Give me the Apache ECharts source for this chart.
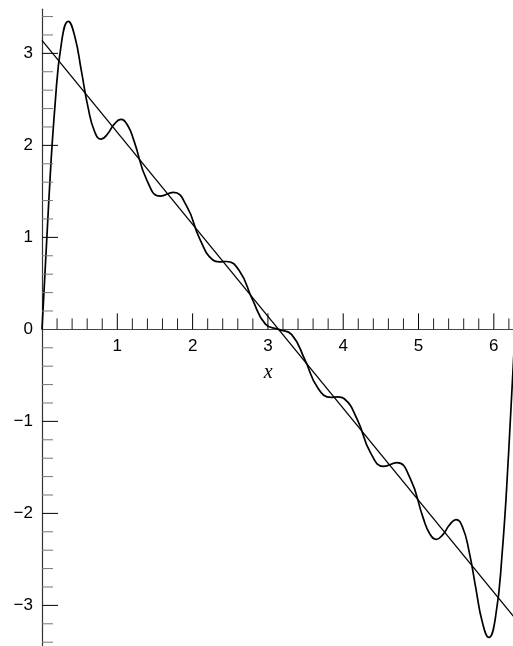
<!DOCTYPE html>
<html>
<head>
<meta charset="utf-8">
<script src="https://cdn.jsdelivr.net/npm/echarts@6/dist/echarts.min.js"></script>
<style>
html, body { margin: 0; padding: 0; background: #fff; }
#chart { width: 513px; height: 646px; }
</style>
</head>
<body>
<div id="chart"></div>
<script>
// Eight-term Fourier partial sum of the sawtooth pi - x on [0, 2pi]
const curveX = [0, 0.0873, 0.1745, 0.2618, 0.3491, 0.4363, 0.5236, 0.6109, 0.6981, 0.7854,
  0.8727, 0.9599, 1.0472, 1.1345, 1.2217, 1.3963, 1.5708, 1.7453, 1.9199, 2.0944,
  2.2689, 2.3562, 2.4435, 2.6180, 2.7925, 2.9671, 3.1416,
  3.3161, 3.4907, 3.6652, 3.8397, 3.9270, 4.0143, 4.1888, 4.3633, 4.5379, 4.7124,
  4.8869, 5.0615, 5.1487, 5.2360, 5.3233, 5.4105, 5.4978, 5.5851, 5.6723, 5.7596,
  5.8469, 5.9341, 6.0214, 6.1087, 6.1959, 6.2832];
const curveY = [0, 1.352, 2.454, 3.134, 3.348, 3.181, 2.806, 2.415, 2.151, 2.067,
  2.126, 2.231, 2.283, 2.221, 2.049, 1.615, 1.448, 1.489, 1.342, 0.984,
  0.754, 0.734, 0.738, 0.641, 0.330, 0.057, 0,
  -0.057, -0.330, -0.641, -0.738, -0.734, -0.754, -0.984, -1.342, -1.489, -1.448,
  -1.615, -2.049, -2.221, -2.283, -2.231, -2.126, -2.067, -2.151, -2.415, -2.806,
  -3.181, -3.348, -3.134, -2.454, -1.352, 0];

// The sawtooth itself: straight line pi - x
const lineX = [0, 6.2832];
const lineY = [3.1416, -3.1416];

// Tick positions and labelled values
const xTickValues = [0.2, 0.4, 0.6, 0.8, 1, 1.2, 1.4, 1.6, 1.8, 2, 2.2, 2.4, 2.6, 2.8, 3,
  3.2, 3.4, 3.6, 3.8, 4, 4.2, 4.4, 4.6, 4.8, 5, 5.2, 5.4, 5.6, 5.8, 6, 6.2];
const yTickValues = [-3.4, -3.2, -3, -2.8, -2.6, -2.4, -2.2, -2, -1.8, -1.6, -1.4, -1.2, -1,
  -0.8, -0.6, -0.4, -0.2, 0.2, 0.4, 0.6, 0.8, 1, 1.2, 1.4, 1.6, 1.8, 2, 2.2, 2.4, 2.6,
  2.8, 3, 3.2, 3.4];
const xLabelValues = [1, 2, 3, 4, 5, 6];
const yLabelValues = [-3, -2, -1, 0, 1, 2, 3];

const X_MIN = 0, X_MAX = 6.26;
const Y_MIN = -3.45, Y_MAX = 3.48;
const GRID_TOP = 9.2, GRID_HEIGHT = 637.6;
// raise the horizontal axis from the grid bottom to the y = 0 level
const xAxisLift = (0 - Y_MIN) / (Y_MAX - Y_MIN) * GRID_HEIGHT;

const fmt = v => (v < 0 ? '\u2212' + Math.abs(v) : String(v));
const isIn = (arr, v) => arr.some(a => Math.abs(a - v) < 1e-6);

const labelFont = { fontFamily: 'Liberation Sans, Arial, sans-serif', fontSize: 17, color: '#000' };

const chart = echarts.init(document.getElementById('chart'), null, { renderer: 'canvas' });

chart.setOption({
  animation: false,
  backgroundColor: '#fff',
  grid: { left: 42, top: GRID_TOP, width: 471.4, height: GRID_HEIGHT, containLabel: false, outerBoundsMode: 'none' },
  xAxis: {
    type: 'value',
    min: X_MIN,
    max: X_MAX,
    interval: 1,
    position: 'bottom',
    offset: -xAxisLift,
    axisLine: { show: true, onZero: false, lineStyle: { color: '#444', width: 1.2 } },
    axisTick: { show: false },
    splitLine: { show: false },
    axisLabel: Object.assign({
      margin: 8,
      formatter: v => (isIn(xLabelValues, v) ? fmt(v) : '')
    }, labelFont),
    name: 'x',
    nameLocation: 'middle',
    nameGap: 33,
    nameTextStyle: {
      fontFamily: 'Liberation Serif, Times New Roman, serif',
      fontStyle: 'italic',
      fontSize: 20,
      color: '#000',
      padding: [0, 19, 0, 0]
    }
  },
  yAxis: {
    type: 'value',
    min: Y_MIN,
    max: Y_MAX,
    axisLine: { show: true, onZero: false, lineStyle: { color: '#333', width: 1.2 } },
    axisTick: { show: false },
    splitLine: { show: false },
    axisLabel: Object.assign({
      margin: 9,
      showMinLabel: false,
      showMaxLabel: false,
      formatter: v => (isIn(yLabelValues, v) ? fmt(v) : '')
    }, labelFont)
  },
  series: [
    {
      type: 'line',
      data: lineX.map((x, i) => [x, lineY[i]]),
      symbol: 'none',
      clip: true,
      lineStyle: { color: '#000', width: 1.3 },
      z: 3
    },
    {
      type: 'line',
      data: curveX.map((x, i) => [x, curveY[i]]),
      symbol: 'none',
      smooth: 0.5,
      clip: true,
      lineStyle: { color: '#000', width: 1.7 },
      z: 4
    },
    {
      // ticks along the x axis, pointing up
      type: 'custom',
      silent: true,
      clip: false,
      data: xTickValues.map(v => [v, 0, isIn(xLabelValues, v) ? 1 : 0]),
      renderItem: (params, api) => {
        const p = api.coord([api.value(0), 0]);
        const len = api.value(2) ? 16 : 11;
        return {
          type: 'line',
          shape: { x1: p[0], y1: p[1], x2: p[0], y2: p[1] - len },
          style: { stroke: api.value(2) ? '#000' : '#222', lineWidth: 1 }
        };
      },
      z: 5
    },
    {
      // ticks along the y axis, pointing right
      type: 'custom',
      silent: true,
      clip: false,
      data: yTickValues.map(v => [0, v, isIn(yLabelValues, v) ? 1 : 0]),
      renderItem: (params, api) => {
        const p = api.coord([0, api.value(1)]);
        const len = api.value(2) ? 16 : 11;
        return {
          type: 'line',
          shape: { x1: p[0], y1: p[1], x2: p[0] + len, y2: p[1] },
          style: { stroke: api.value(2) ? '#000' : '#777', lineWidth: 1 }
        };
      },
      z: 5
    }
  ]
});
</script>
</body>
</html>
